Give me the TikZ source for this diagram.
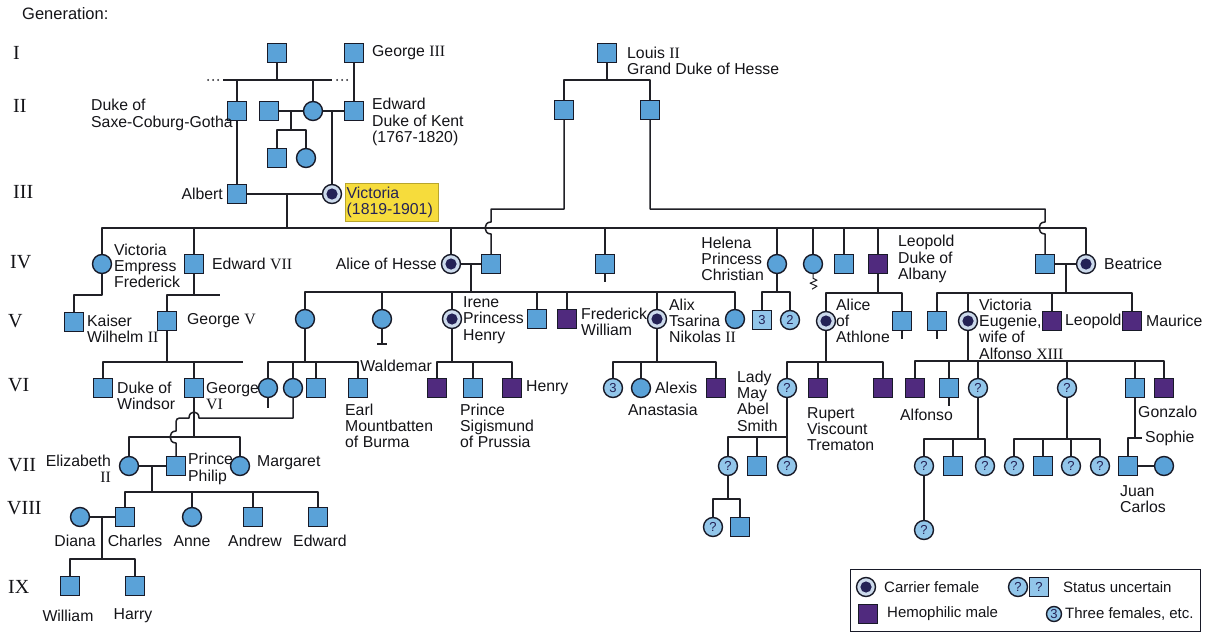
\documentclass[tikz,border=0pt]{standalone}
\usepackage{fontspec}
\setmainfont{Liberation Sans}
\newfontfamily\numfont{Liberation Serif}
\definecolor{affblue}{RGB}{90,162,216}
\definecolor{paleblue}{RGB}{146,198,234}
\definecolor{edgecol}{RGB}{24,26,40}
\definecolor{linecol}{RGB}{32,32,38}
\definecolor{hemocol}{RGB}{80,42,126}
\definecolor{dotcol}{RGB}{36,34,86}
\definecolor{ringcol}{RGB}{204,218,236}
\definecolor{vicyellow}{RGB}{246,220,60}
\definecolor{txtcol}{RGB}{20,20,24}
\newcommand\lab{\fontsize{15.8}{16.3}\selectfont}
\newcommand\keyfont{\fontsize{15}{16}\selectfont}
\newcommand\rn[1]{{\numfont #1}}
\begin{document}
\begin{tikzpicture}[x=1pt,y=-1pt,
  sym/.style={draw=edgecol, line width=1.4pt, inner sep=0pt, minimum size=19pt,
    text=dotcol, font=\fontsize{13}{13}\selectfont},
  male/.style={sym, rectangle, fill=affblue},
  female/.style={sym, circle, fill=affblue},
  umale/.style={sym, rectangle, fill=paleblue},
  ufemale/.style={sym, circle, fill=paleblue},
  carrier/.style={sym, circle, fill=ringcol,
    path picture={\fill[dotcol] (path picture bounding box.center) circle (5.6pt);}},
  hemo/.style={sym, rectangle, fill=hemocol},
  conn/.style={draw=linecol, line width=1.5pt, line join=round},
  lbl/.style={font=\lab, text=txtcol, inner sep=0pt, align=left},
  gen/.style={font=\numfont\fontsize{20}{20}\selectfont, text=txtcol, inner sep=0pt, anchor=west},
]
\fill[white] (0,0) rectangle (1210,634);
\useasboundingbox (0,0) rectangle (1210,634);

% ---------- generation numbers ----------
\node[font=\fontsize{16.5}{16.5}\selectfont, text=txtcol, inner sep=0pt, anchor=west] (title) at (22,14) {Generation:};
\node[gen] (gI) at (13,53) {I};
\node[gen] (gII) at (13,106) {II};
\node[gen] (gIII) at (13,192) {III};
\node[gen] (gIV) at (10,262) {IV};
\node[gen] (gV) at (8,321) {V};
\node[gen] (gVI) at (8,385) {VI};
\node[gen] (gVII) at (8,465) {VII};
\node[gen] (gVIII) at (7,508) {VIII};
\node[gen] (gIX) at (8,587) {IX};

% ---------- generation I ----------
\node[male] (fsc) at (277,53) {};
\node[male] (george3) at (354,53) {};
\node[lbl, anchor=west] (lgeorge3) at (372,53) {George \rn{III}};
\coordinate (tl) at (223,80);
\coordinate (tr) at (332,80);
\foreach \d in {0,5,10} {
  \fill[linecol] (208+\d,80) circle (1);
  \fill[linecol] (337+\d,80) circle (1);
}

\node[male] (louis2) at (607,53) {};
\node[lbl, anchor=west] (llouis2) at (627,61) {Louis \rn{II}\\Grand Duke of Hesse};

% ---------- generation II ----------
\node[male] (saxe) at (237,111) {};
\node[lbl, anchor=west] (lsaxe) at (91,115) {Duke of\\Saxe-Coburg-Gotha};
\node[male] (emich) at (269,111) {};
\node[female] (vmom) at (313,111) {};
\node[male] (kent) at (354,111) {};
\node[lbl, anchor=west] (lkent) at (372,122) {Edward\\Duke of Kent\\(1767-1820)};
\node[male] (carl) at (277,158) {};
\node[female] (feo) at (306,158) {};
\coordinate (s1) at (291,130);

\node[male] (hs1) at (564,110) {};
\node[male] (hs2) at (650,110) {};
\coordinate (hb) at (607,80);
\coordinate (hl) at (491,209);
\coordinate (hr) at (1045,209);

\draw[conn] (fsc.south) -- (fsc.south |- tl);
\draw[conn] (tl) -- (tr);
\draw[conn] (saxe.north |- tl) -- (saxe.north);
\draw[conn] (vmom.north |- tl) -- (vmom.north);
\draw[conn] (george3.south) -- (kent.north);
\draw[conn] (emich.east) -- (vmom.west);
\draw[conn] (vmom.east) -- (kent.west);
\draw[conn] (s1 |- emich.east) -- (s1);
\draw[conn] (carl.north) |- (s1) -| (feo.north);
\draw[conn] (louis2.south) -- (hb);
\draw[conn] (hs1.north) |- (hb) -| (hs2.north);

% ---------- generation III ----------
\node[male] (albert) at (237,194) {};
\node[lbl, anchor=east] (lalbert) at (223,194) {Albert};
\node[carrier] (victoria) at (332,194) {};
\node[lbl, fill=vicyellow, draw=vicyellow!75!black, line width=0.4pt, anchor=north west,
  text width=90pt, inner xsep=1.5pt, inner ysep=2pt, minimum height=38pt, text=dotcol]
  (lvic) at (345,183) {Victoria\\(1819-1901)};
\coordinate (dv) at (287,194);
\coordinate (sv) at (287,228);
\draw[conn] (saxe.south) -- (albert.north);
\draw[conn] (victoria.north |- kent.west) -- (victoria.north);
\draw[conn] (albert.east) -- (victoria.west);
\draw[conn] (dv) -- (sv);

% ---------- generation IV ----------
\node[female] (vicf) at (102,264) {};
\node[lbl, anchor=west] (lvicf) at (114,266) {Victoria\\Empress\\Frederick};
\node[male] (edw7) at (194,264) {};
\node[lbl, anchor=west] (ledw7) at (212,264) {Edward \rn{VII}};
\node[carrier] (alice) at (451,264) {};
\node[lbl, anchor=east] (lalice) at (437,264) {Alice of Hesse};
\node[male] (louis4) at (491,264) {};
\node[male] (alfred) at (605,264) {};
\node[female] (helena) at (777,264) {};
\node[lbl, anchor=east] (lhelena) at (764,259) {Helena\\Princess\\Christian};
\node[female] (louise) at (813,264) {};
\node[male] (arthur) at (844,264) {};
\node[hemo] (leopold) at (878,264) {};
\node[lbl, anchor=west] (lleopold) at (898,259) {Leopold\\Duke of\\Albany};
\node[male] (henryb) at (1045,264) {};
\node[carrier] (beatrice) at (1086,264) {};
\node[lbl, anchor=west] (lbeatrice) at (1104,264) {Beatrice};

\draw[conn] (vicf.north) -- (vicf.north |- sv) -- (beatrice.north |- sv) -- (beatrice.north);
\foreach \n in {edw7,alice,alfred,helena,louise,arthur,leopold}
  \draw[conn] (\n.north |- sv) -- (\n.north);
\draw[conn] (hs1.south) |- (hl) -- (491,222) .. controls (483,222) and (483,234) .. (491,234) -- (louis4.north);
\draw[conn] (hs2.south) |- (hr) -- (1045,222) .. controls (1037,222) and (1037,234) .. (1045,234) -- (henryb.north);
\draw[conn] (alice.east) -- (louis4.west);
\draw[conn] (henryb.east) -- (beatrice.west);
\draw[conn] (alfred.south) -- ++(0,8);
\draw[conn, line width=1pt] (louise.south) -- ++(0,4) -- ++(4,2) -- ++(-7,3) -- ++(7,3) -- ++(-5,3);

% ---------- generation V ----------
\coordinate (k1) at (102,295);
\node[male] (kaiser) at (74,322) {};
\node[lbl, anchor=west] (lkaiser) at (87,329) {Kaiser\\Wilhelm \rn{II}};
\draw[conn] (vicf.south) -- (k1) -| (kaiser.north);

\coordinate (e7s) at (194,295);
\node[male] (george5) at (167,321) {};
\node[lbl, anchor=west] (lgeorge5) at (187,321) {George \rn{V}};
\draw[conn] (edw7.south) -- (e7s);
\draw[conn] (george5.north) |- (220,295);

\coordinate (am) at (471,264);
\coordinate (ahs) at (471,292);
\node[female] (vhesse) at (305,319) {};
\node[female] (ella) at (382,319) {};
\node[carrier] (irene) at (452,319) {};
\node[lbl, anchor=west] (lirene) at (463,320) {Irene\\Princess\\Henry};
\node[male] (ernst) at (537,319) {};
\node[hemo] (fritz) at (567,319) {};
\node[lbl, anchor=west] (lfritz) at (581,322) {Frederick\\William};
\node[carrier] (alix) at (657,319) {};
\node[lbl, anchor=west] (lalix) at (669,321) {Alix\\Tsarina\\Nikolas \rn{II}};
\node[female] (mayh) at (735,319) {};
\draw[conn] (am) -- (ahs);
\draw[conn] (vhesse.north) -- (vhesse.north |- ahs) -- (mayh.north |- ahs) -- (mayh.north);
\foreach \n in {ella,irene,ernst,fritz,alix}
  \draw[conn] (\n.north |- ahs) -- (\n.north);
\draw[conn] (ella.south) -- ++(0,16);
\draw[conn] (377,344) -- (387,344);

\coordinate (hs) at (777,292);
\node[umale] (hel3) at (762,320) {3};
\node[ufemale] (hel2) at (790,320) {2};
\draw[conn] (helena.south) -- (hs);
\draw[conn] (hel3.north) |- (hs) -| (hel2.north);

\coordinate (ls) at (878,293);
\node[carrier] (aliceath) at (826,321) {};
\node[lbl, anchor=west] (laliceath) at (836,321) {Alice\\of\\Athlone};
\node[male] (charlesed) at (902,321) {};
\draw[conn] (leopold.south) -- (ls);
\draw[conn] (aliceath.north) |- (ls) -| (charlesed.north);
\draw[conn] (charlesed.south) -- ++(0,8);

\coordinate (bm) at (1066,264);
\coordinate (bs) at (1066,293);
\node[male] (alexb) at (937,321) {};
\node[carrier] (ena) at (968,321) {};
\node[lbl, anchor=west] (lena) at (979,329) {Victoria\\Eugenie,\\wife of\\Alfonso \rn{XIII}};
\node[hemo] (leob) at (1052,321) {};
\node[lbl, anchor=west] (lleob) at (1065,321) {Leopold};
\node[hemo] (maurice) at (1132,321) {};
\node[lbl, anchor=west] (lmaurice) at (1146,321) {Maurice};
\draw[conn] (bm) -- (bs);
\draw[conn] (alexb.north) |- (bs) -| (maurice.north);
\foreach \n in {ena,leob}
  \draw[conn] (\n.north |- bs) -- (\n.north);
\draw[conn] (alexb.south) -- ++(0,8);

% ---------- generation VI ----------
\coordinate (g5s) at (167,362);
\node[male] (windsor) at (103,388) {};
\node[lbl, anchor=west] (lwindsor) at (117,396) {Duke of\\Windsor};
\node[male] (george6) at (194,388) {};
\node[lbl, anchor=west] (lgeorge6) at (206,396) {George\\\rn{VI}};
\draw[conn] (george5.south) -- (g5s);
\draw[conn] (windsor.north) |- (243,362);
\draw[conn] (george6.north) -- (george6.north |- g5s);

\coordinate (vhs) at (305,362);
\node[female] (alicebat) at (268,388) {};
\node[female] (louisebat) at (293,388) {};
\node[male] (georgebat) at (316,388) {};
\node[male] (mountbatten) at (358,388) {};
\node[lbl, anchor=west] (lmount) at (345,426) {Earl\\Mountbatten\\of Burma};
\draw[conn] (vhesse.south) -- (vhs);
\draw[conn] (alicebat.north) |- (vhs) -| (mountbatten.north);
\foreach \n in {louisebat,georgebat}
  \draw[conn] (\n.north |- vhs) -- (\n.north);
\draw[conn] (alicebat.south) -- ++(0,10);

\coordinate (is) at (452,362);
\node[hemo] (waldemar) at (437,388) {};
\node[lbl, anchor=east] (lwaldemar) at (432,366) {Waldemar};
\node[male] (sigismund) at (473,388) {};
\node[lbl, anchor=west] (lsigis) at (460,426) {Prince\\Sigismund\\of Prussia};
\node[hemo] (henryp) at (512,388) {};
\node[lbl, anchor=west] (lhenryp) at (526,388) {Henry};
\draw[conn] (irene.south) -- (is);
\draw[conn] (waldemar.north) |- (is) -| (henryp.north);
\draw[conn] (sigismund.north) -- (sigismund.north |- is);

\coordinate (axs) at (657,362);
\node[ufemale] (alix3) at (613,388) {3};
\node[female] (anastasia) at (641,388) {};
\node[lbl, anchor=west] (lalexis) at (655,388) {Alexis};
\node[lbl, anchor=west] (lanast) at (628,410) {Anastasia};
\node[hemo] (alexis) at (716,388) {};
\draw[conn] (alix.south) -- (axs);
\draw[conn] (alix3.north) |- (axs) -| (alexis.north);
\draw[conn] (anastasia.north) -- (anastasia.north |- axs);

\coordinate (aas) at (826,362);
\node[ufemale] (ladymay) at (787,388) {?};
\node[lbl, anchor=west] (lladymay) at (737,401) {Lady\\May\\Abel\\Smith};
\node[hemo] (rupert) at (818,388) {};
\node[lbl, anchor=west] (lrupert) at (807,429) {Rupert\\Viscount\\Trematon};
\node[hemo] (maurath) at (883,388) {};
\draw[conn] (aliceath.south) -- (aas);
\draw[conn] (ladymay.north) |- (aas) -| (maurath.north);
\draw[conn] (rupert.north) -- (rupert.north |- aas);

\coordinate (es) at (968,361);
\node[hemo] (alfonso) at (915,388) {};
\node[lbl, anchor=west] (lalfonso) at (900,415) {Alfonso};
\node[male] (jaime) at (949,388) {};
\node[ufemale] (beatriz) at (978,388) {?};
\node[ufemale] (mcris) at (1067,388) {?};
\node[male] (juan) at (1135,388) {};
\node[hemo] (gonzalo) at (1164,388) {};
\node[lbl, anchor=west] (lgonzalo) at (1138,412) {Gonzalo};
\draw[conn] (ena.south) -- (es);
\draw[conn] (alfonso.north) |- (es) -| (gonzalo.north);
\foreach \n in {jaime,beatriz,mcris,juan}
  \draw[conn] (\n.north |- es) -- (\n.north);
\draw[conn] (jaime.south) -- ++(0,8);

% ---------- generation VII ----------
\coordinate (g6s) at (194,437);
\node[female] (eliz) at (129,466) {};
\node[lbl, anchor=east, align=right] (leliz) at (111,469) {Elizabeth\\\rn{II}};
\node[male] (philip) at (176,466) {};
\node[lbl, anchor=west] (lphilip) at (188,469) {Prince\\Philip};
\node[female] (margaret) at (240,466) {};
\node[lbl, anchor=west] (lmargaret) at (257,463) {Margaret};
\draw[conn] (george6.south) -- (g6s);
\draw[conn] (eliz.north) |- (g6s) -| (margaret.north);
\draw[conn] (louisebat.south) -- (293,418) -- (199,418)
  .. controls (199,410) and (189,410) .. (189,418) -- (184,418)
  .. controls (176,418) .. (176,426) -- (176,431)
  .. controls (168,431) and (168,443) .. (176,443) -- (philip.north);
\draw[conn] (eliz.east) -- (philip.west);

\node[ufemale] (lm1) at (728,466) {?};
\node[male] (lm2) at (757,466) {};
\node[ufemale] (lm3) at (787,466) {?};
\coordinate (lms) at (787,437);
\draw[conn] (ladymay.south) -- (lm3.north);
\draw[conn] (lm1.north) |- (lms);
\draw[conn] (lm2.north) -- (lm2.north |- lms);
\node[ufemale] (lm11) at (713,527) {?};
\node[male] (lm12) at (740,527) {};
\coordinate (lm1s) at (728,499);
\draw[conn] (lm1.south) -- (lm1s);
\draw[conn] (lm11.north) |- (lm1s) -| (lm12.north);

\coordinate (bzs) at (978,439);
\node[ufemale] (bz1) at (924,466) {?};
\node[male] (bz2) at (953,466) {};
\node[ufemale] (bz3) at (985,466) {?};
\node[ufemale] (bz11) at (924,530) {?};
\draw[conn] (beatriz.south) -- (bzs);
\draw[conn] (bz1.north) |- (bzs) -| (bz3.north);
\draw[conn] (bz2.north) -- (bz2.north |- bzs);
\draw[conn] (bz1.south) -- (bz11.north);

\coordinate (mcs) at (1067,439);
\node[ufemale] (mc1) at (1014,466) {?};
\node[male] (mc2) at (1043,466) {};
\node[ufemale] (mc3) at (1071,466) {?};
\node[ufemale] (mc4) at (1100,466) {?};
\draw[conn] (mcris.south) -- (mcs);
\draw[conn] (mc1.north) |- (mcs) -| (mc4.north);
\foreach \n in {mc2,mc3}
  \draw[conn] (\n.north |- mcs) -- (\n.north);

\coordinate (js) at (1135,438);
\coordinate (jstub) at (1142,438);
\node[male] (jcarlos) at (1128,466) {};
\node[female] (sophie) at (1164,466) {};
\node[lbl, anchor=west] (lsophie) at (1145,438) {Sophie};
\node[lbl, anchor=west] (ljc) at (1120,499) {Juan\\Carlos};
\draw[conn] (juan.south) -- (js);
\draw[conn] (jstub) -- (jcarlos.north |- js) -- (jcarlos.north);
\draw[conn] (jcarlos.east) -- (sophie.west);

% ---------- generations VIII and IX ----------
\coordinate (epm) at (152,466);
\coordinate (eps) at (152,492);
\node[female] (diana) at (80,517) {};
\node[male] (charles) at (125,517) {};
\node[female] (anne) at (192,517) {};
\node[male] (andrew) at (253,517) {};
\node[male] (edward) at (318,517) {};
\draw[conn] (epm) -- (eps);
\draw[conn] (charles.north) |- (eps) -| (edward.north);
\foreach \n in {anne,andrew}
  \draw[conn] (\n.north |- eps) -- (\n.north);
\draw[conn] (diana.east) -- (charles.west);
\node[lbl] (ldiana) at (75,541) {Diana};
\node[lbl] (lcharles) at (135,541) {Charles};
\node[lbl] (lanne) at (192,541) {Anne};
\node[lbl] (landrew) at (255,541) {Andrew};
\node[lbl] (ledward) at (320,541) {Edward};

\coordinate (dcm) at (102,517);
\coordinate (dcs) at (102,559);
\node[male] (william) at (70,586) {};
\node[male] (harry) at (135,586) {};
\draw[conn] (dcm) -- (dcs);
\draw[conn] (william.north) |- (dcs) -| (harry.north);
\node[lbl] (lwilliam) at (68,616) {William};
\node[lbl] (lharry) at (133,616) {Harry};

% ---------- key ----------
\node[draw=edgecol, line width=1.3pt, minimum width=350pt, minimum height=62pt,
  inner sep=0pt, anchor=north west] (legend) at (850,569) {};
\node[carrier] (kc) at (866,587) {};
\node[lbl, font=\keyfont, anchor=west] (lkc) at (884,587) {Carrier female};
\node[hemo] (kh) at (868,614) {};
\node[lbl, font=\keyfont, anchor=west] (lkh) at (887,614) {Hemophilic male};
\node[ufemale] (kq1) at (1018,587) {?};
\node[umale] (kq2) at (1039,587) {?};
\node[lbl, font=\keyfont, anchor=west] (lkq) at (1063,587) {Status uncertain};
\node[ufemale, minimum size=15pt] (k3) at (1054,614) {3};
\node[lbl, font=\keyfont, anchor=west] (lk3) at (1065,614) {Three females, etc.};
\end{tikzpicture}
\end{document}
